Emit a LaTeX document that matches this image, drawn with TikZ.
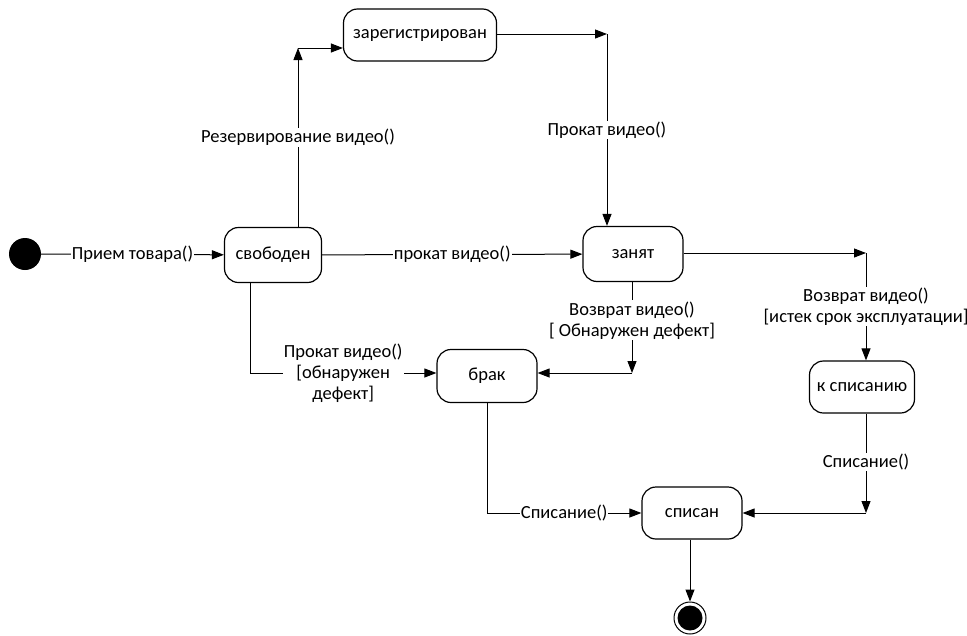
\documentclass[tikz,border=0pt]{standalone}
\usepackage{fontspec}
\setmainfont{Carlito}
\usetikzlibrary{arrows.meta}

\tikzset{
  state/.style={draw, rounded corners=14pt, minimum width=100pt, minimum height=55pt, line width=1.2pt},
  trans/.style={-{Triangle[length=12pt,width=9pt]}, line width=1pt},
  lbl/.style={fill=white, inner sep=1pt, align=center}
}

\begin{document}
\begin{tikzpicture}[x=1pt,y=-1pt,font=\fontsize{18.5}{21}\selectfont]
    \useasboundingbox (0,0) rectangle (967,635);

    % States
    \node[circle, fill=black, minimum size=32pt, inner sep=0pt] (init) at (25,254) {};
    \node[state, minimum width=97pt] (svoboden) at (273,255) {свободен};
    \node[state, minimum width=153pt, minimum height=52pt] (zareg) at (420,35) {зарегистрирован};
    \node[state] (zanyat) at (633,254) {занят};
    \node[state, minimum height=53pt] (brak) at (487,376) {брак};
    \node[state, minimum width=105pt, minimum height=52pt] (kspis) at (862,387) {к списанию};
    \node[state, minimum height=52pt] (spisan) at (692,513) {списан};
    \node[circle, draw, line width=1pt, minimum size=32pt, inner sep=0pt] (final) at (690,618) {};
    \node[circle, fill=black, minimum size=25pt, inner sep=0pt] (finalcore) at (final) {};

    % Bend points
    \coordinate (c1) at (298,48);
    \coordinate (c2) at (607,34);
    \coordinate (c3) at (632,373);
    \coordinate (c4) at (866,253);
    \coordinate (c5) at (866,513);

    % Transitions
    \draw[trans] (init) -- node[lbl] {Прием товара()} (svoboden);
    \draw[trans] (c1 |- svoboden.north) -- node[lbl] {Резервирование видео()} (c1);
    \draw[trans] (c1) -- (c1 -| zareg.west);
    \draw[trans] (zareg.east |- c2) -- (c2);
    \draw[trans] (c2) -- node[lbl] {Прокат видео()} (c2 |- zanyat.north);
    \draw[trans] (svoboden) -- node[lbl] {прокат видео()} (zanyat);
    \draw[trans] (zanyat.east |- c4) -- (c4);
    \draw[trans] (c4) -- node[lbl] {Возврат видео()\\{}[истек срок эксплуатации]} (c4 |- kspis.north);
    \draw[trans] (c3 |- zanyat.south) -- node[lbl, pos=0.42] {Возврат видео()\\{}[ Обнаружен дефект]} (c3);
    \draw[trans] (c3) -- (c3 -| brak.east);
    \draw[trans] ([xshift=-23pt]svoboden.south) |- node[lbl, pos=0.75] {Прокат видео()\\{}[обнаружен\\дефект]} (brak.west |- c3);
    \draw[trans] (brak.south) |- node[lbl, pos=0.75] {Списание()} (spisan.west);
    \draw[trans] (c5 |- kspis.south) -- node[lbl, pos=0.49] {Списание()} (c5);
    \draw[trans] (c5) -- (spisan.east);
    \draw[trans] ([xshift=-2pt]spisan.south) -- (final);
\end{tikzpicture}
\end{document}
